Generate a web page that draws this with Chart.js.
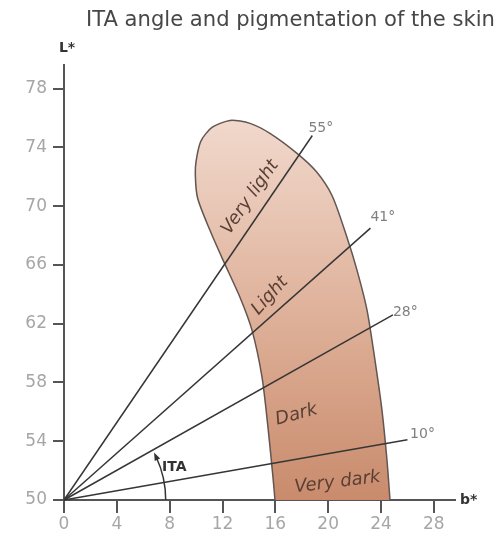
<!DOCTYPE html>
<html>
<head>
<meta charset="utf-8">
<script src="https://cdn.jsdelivr.net/npm/chart.js@4.4.1/dist/chart.umd.min.js"></script>
<style>
html,body{margin:0;padding:0;background:#fff;}
#wrap{width:501px;height:539px;position:relative;}
</style>
</head>
<body>
<div id="wrap"><canvas id="c" width="501" height="539"></canvas></div>
<script>
// ---- data ----
const titleText = 'ITA angle and pigmentation of the skin';
const bTicks = [0, 4, 8, 12, 16, 20, 24, 28];
const LTicks = [50, 54, 58, 62, 66, 70, 74, 78];
const itaAngles = ['55°', '41°', '28°', '10°'];
const lineEndB = [18.8, 23.2, 24.9, 26.0];
const lineEndL = [74.8, 68.5, 62.6, 54.1];
const angleLabelB = [18.5, 23.2, 24.9, 26.2];
const angleLabelL = [75.3, 69.2, 62.8, 54.5];
const regionB = [15.97, 15.82, 15.44, 14.99, 14.23, 13.32, 12.04, 11.05, 10.1, 9.95, 10.35, 11.2, 12.57, 14.08, 15.59, 17.64, 19.1, 20.3, 21.42, 22.18, 22.94, 23.54, 24.07, 24.45, 24.68];
const regionL = [50, 51.56, 54.96, 58.36, 61.56, 63.8, 66.32, 68.35, 70.6, 72.64, 74.4, 75.35, 75.83, 75.63, 74.95, 73.59, 72.35, 70.7, 67.88, 65.64, 62.92, 59.52, 56.12, 52.72, 50];
const zoneNames = ['Very light', 'Light', 'Dark', 'Very dark'];
const zoneB = [14.1, 15.6, 17.6, 20.7];
const zoneL = [70.6, 63.9, 55.8, 51.2];
const zoneRot = [-55, -48, -15, -7];
const itaArcB = 7.7;

const FONT = "'DejaVu Sans', sans-serif";

const lineSets = itaAngles.map((a, i) => ({
  label: a,
  data: [{x: 0, y: 50}, {x: lineEndB[i], y: lineEndL[i]}],
  showLine: true,
  borderColor: '#363636',
  borderWidth: 1.5,
  pointRadius: 0,
  fill: false,
  order: 1,
  clip: false
}));

const regionSet = {
  label: 'skin',
  data: regionB.map((b, i) => ({x: b, y: regionL[i]})),
  showLine: true,
  tension: 0.25,
  borderColor: '#635550',
  borderWidth: 1.5,
  pointRadius: 0,
  fill: 'shape',
  order: 10,
  clip: false,
  backgroundColor: (ctx) => {
    const ch = ctx.chart;
    const ca = ch.chartArea;
    if (!ca) return '#e0b39c';
    const ys = ch.scales.y;
    const g = ch.ctx.createLinearGradient(0, ys.getPixelForValue(76), 0, ys.getPixelForValue(50));
    g.addColorStop(0, '#f1d9cd');
    g.addColorStop(0.5, '#dfb29b');
    g.addColorStop(1, '#c98b6c');
    return g;
  }
};

const textPlugin = {
  id: 'texts',
  afterDatasetsDraw(chart) {
    const c = chart.ctx;
    const xs = chart.scales.x, ys = chart.scales.y;
    c.save();
    // title, fitted to the reference width
    c.fillStyle = '#474747';
    c.font = '16px ' + FONT;
    const w = c.measureText(titleText).width;
    const fs = 16 * 409 / w;
    c.font = fs.toFixed(2) + 'px ' + FONT;
    c.textBaseline = 'middle';
    c.textAlign = 'left';
    c.fillText(titleText, 86, 21);
    // axis names
    c.fillStyle = '#333';
    c.font = 'bold 14px ' + FONT;
    c.textAlign = 'center';
    c.fillText('L*', 67, 48);
    c.textAlign = 'left';
    c.fillText('b*', 460, 500);
    // angle labels
    c.fillStyle = '#808080';
    c.font = '14px ' + FONT;
    c.textAlign = 'left';
    itaAngles.forEach((a, i) => {
      c.fillText(a, xs.getPixelForValue(angleLabelB[i]), ys.getPixelForValue(angleLabelL[i]));
    });
    // zone labels
    c.fillStyle = '#5a3f35';
    c.font = 'oblique 18px ' + FONT;
    c.textAlign = 'center';
    zoneNames.forEach((n, i) => {
      c.save();
      c.translate(xs.getPixelForValue(zoneB[i]), ys.getPixelForValue(zoneL[i]));
      c.rotate(zoneRot[i] * Math.PI / 180);
      c.fillText(n, 0, 0);
      c.restore();
    });
    // ITA arc
    const ox = xs.getPixelForValue(0), oy = ys.getPixelForValue(50);
    const r = xs.getPixelForValue(itaArcB) - ox;
    const endA = -25 * Math.PI / 180;
    c.strokeStyle = '#333';
    c.lineWidth = 1.5;
    c.beginPath();
    c.arc(ox, oy, r, 0, endA, true);
    c.stroke();
    const tx = ox + r * Math.cos(endA), ty = oy + r * Math.sin(endA);
    c.save();
    c.translate(tx, ty);
    c.rotate(endA);
    c.fillStyle = '#333';
    c.beginPath();
    c.moveTo(0, -5);
    c.lineTo(-3, 3);
    c.lineTo(3, 3);
    c.closePath();
    c.fill();
    c.restore();
    c.fillStyle = '#333';
    c.font = 'bold 14px ' + FONT;
    c.textAlign = 'left';
    c.fillText('ITA', 162, 467);
    c.restore();
  }
};

new Chart(document.getElementById('c'), {
  type: 'scatter',
  data: { datasets: [...lineSets, regionSet] },
  options: {
    responsive: false,
    animation: false,
    events: [],
    layout: { padding: { top: 65, right: 46, left: 0, bottom: 0 } },
    plugins: { legend: { display: false }, tooltip: { enabled: false }, title: { display: false } },
    scales: {
      x: {
        type: 'linear', min: 0, max: 29.6,
        afterBuildTicks: (s) => { s.ticks = bTicks.map(v => ({value: v})); },
        afterFit: (s) => { s.height = 39; },
        grid: { drawOnChartArea: false, drawTicks: true, tickLength: 13, color: '#555', lineWidth: 2 },
        border: { display: true, color: '#555', width: 2 },
        ticks: { color: '#a6a6a6', font: { family: FONT, size: 17 }, padding: 1, maxRotation: 0, autoSkip: false }
      },
      y: {
        type: 'linear', min: 50, max: 79.6,
        afterBuildTicks: (s) => { s.ticks = LTicks.map(v => ({value: v})); },
        afterFit: (s) => { s.width = 64; },
        grid: { drawOnChartArea: false, drawTicks: true, tickLength: 11, color: '#555', lineWidth: 2 },
        border: { display: true, color: '#555', width: 2 },
        ticks: { color: '#a6a6a6', font: { family: FONT, size: 17 }, padding: 6, autoSkip: false }
      }
    }
  },
  plugins: [textPlugin]
});
</script>
</body>
</html>
